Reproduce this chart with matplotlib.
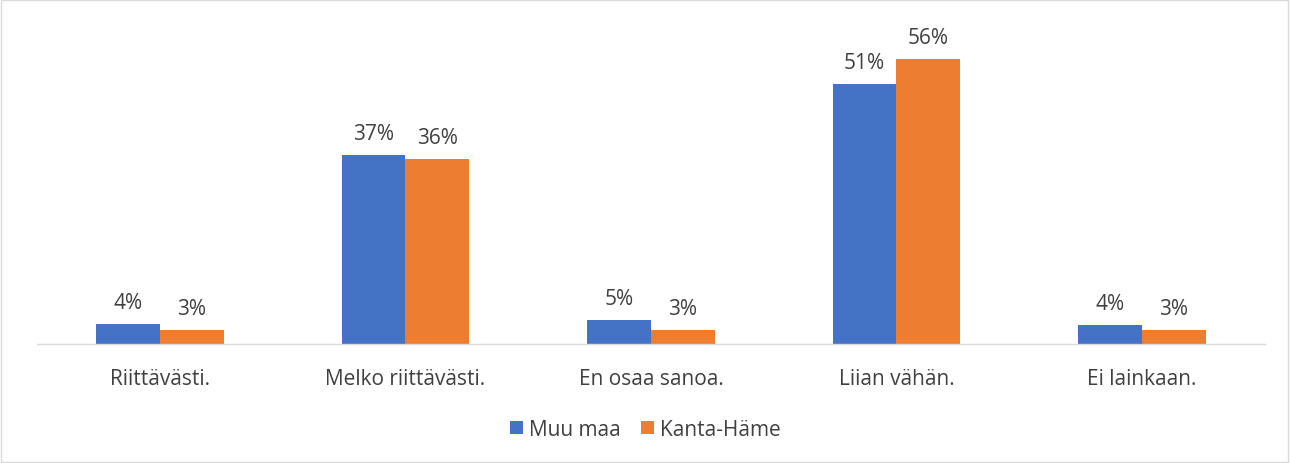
import matplotlib
matplotlib.use("Agg")
import matplotlib.pyplot as plt
import numpy as np
from matplotlib.patches import Rectangle

categories = ["Riittävästi.", "Melko riittävästi.", "En osaa sanoa.", "Liian vähän.", "Ei lainkaan."]
muu_maa = [3.9, 37.1, 4.7, 51.1, 3.7]
kanta_hame = [2.8, 36.3, 2.8, 56.0, 2.8]
series_names = ["Muu maa", "Kanta-Häme"]

BLUE = "#4472C4"
ORANGE = "#ED7D31"
TXT = "#404040"

plt.rcParams["font.family"] = ["Open Sans", "DejaVu Sans"]

fig = plt.figure(figsize=(12.91, 4.64), dpi=100)
ax = fig.add_axes([0.0287, 0.2565, 0.951, 0.658])

x = np.arange(len(categories))
w = 0.26
b1 = ax.bar(x - w / 2, muu_maa, w, color=BLUE, label=series_names[0])
b2 = ax.bar(x + w / 2, kanta_hame, w, color=ORANGE, label=series_names[1])

for bars, vals in [(b1, muu_maa), (b2, kanta_hame)]:
    for r, v in zip(bars, vals):
        ax.annotate(f"{round(v):d}%", (r.get_x() + r.get_width() / 2, v),
                    xytext=(0, 8), textcoords="offset points",
                    ha="center", va="bottom", fontsize=15, color=TXT)

ax.set_xlim(-0.5, len(categories) - 0.5)
ax.set_ylim(0, 60)
ax.set_yticks([])
ax.set_xticks(x)
ax.set_xticklabels(categories, fontsize=15, color=TXT)
ax.tick_params(axis="x", length=0, pad=17)
for s in ["top", "right", "left"]:
    ax.spines[s].set_visible(False)
ax.spines["bottom"].set_color("#D9D9D9")
ax.spines["bottom"].set_linewidth(1)

fig.legend(handles=[b1, b2], loc="center", bbox_to_anchor=(0.5, 0.072), ncol=2,
           frameon=False, fontsize=15, labelcolor=TXT, handlelength=0.6,
           handleheight=0.6, handletextpad=0.3, columnspacing=1.0)

fig.patches.append(Rectangle((0.001, 0.002), 0.997, 0.995, transform=fig.transFigure,
                             fill=False, edgecolor="#D9D9D9", linewidth=1))

fig.savefig("out.png", dpi=100, facecolor="white")
